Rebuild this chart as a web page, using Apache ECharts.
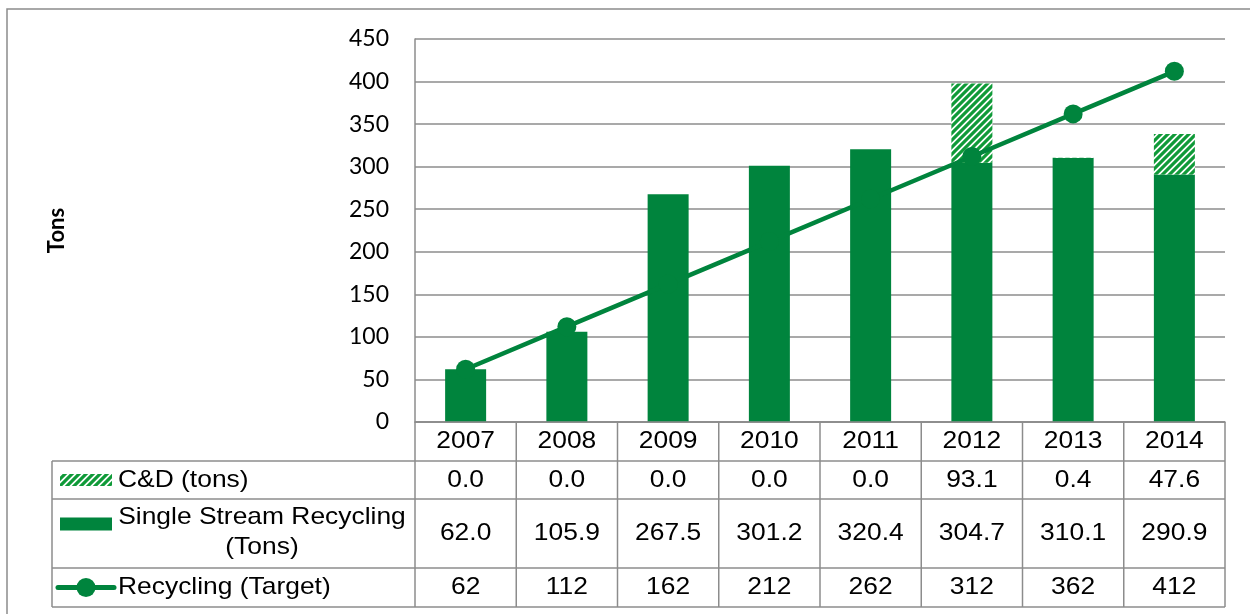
<!DOCTYPE html>
<html>
<head>
<meta charset="utf-8">
<style>
  html, body { margin: 0; padding: 0; background: #fff; }
  #chart { width: 1250px; height: 614px; }
</style>
<script src="https://cdn.jsdelivr.net/npm/echarts@6/dist/echarts.min.js"></script>
</head>
<body>
<div id="chart"></div>
<script>
// Recycling tonnage by year
const years = ['2007', '2008', '2009', '2010', '2011', '2012', '2013', '2014'];
const cdTons = [0.0, 0.0, 0.0, 0.0, 0.0, 93.1, 0.4, 47.6];
const singleStreamTons = [62.0, 105.9, 267.5, 301.2, 320.4, 304.7, 310.1, 290.9];
const recyclingTarget = [62, 112, 162, 212, 262, 312, 362, 412];
const seriesNames = ['C&D (tons)', 'Single Stream Recycling\n(Tons)', 'Recycling (Target)'];
const yTickMin = 0, yTickMax = 450, yTickStep = 50;

const GREEN = '#00843d';
const HATCH_GREEN = '#0f9a38';
const GRAY = '#8c8c8c';
const TABLE_FONT = '"Liberation Sans", Arial, sans-serif';

// upward diagonal hatch fill
function hatchCanvas() {
  const c = document.createElement('canvas');
  c.width = 7; c.height = 7;
  const g = c.getContext('2d');
  g.fillStyle = '#fff';
  g.fillRect(0, 0, 7, 7);
  g.strokeStyle = HATCH_GREEN;
  g.lineWidth = 3.2;
  g.beginPath();
  g.moveTo(-1, 8); g.lineTo(8, -1);
  g.moveTo(-4, 4); g.lineTo(4, -4);
  g.moveTo(3, 11); g.lineTo(11, 3);
  g.stroke();
  return c;
}
const hatch = { image: hatchCanvas(), repeat: 'repeat' };

const chart = echarts.init(document.getElementById('chart'), null, { renderer: 'canvas' });

const option = {
  animation: false,
  backgroundColor: '#fff',
  grid: { left: 415, right: 25, top: 39, bottom: 192, containLabel: false },
  xAxis: {
    type: 'category',
    data: years,
    axisLine: { show: true, lineStyle: { color: GRAY, width: 1.5 } },
    axisTick: { show: false },
    axisLabel: { show: false },
    splitLine: { show: false }
  },
  yAxis: {
    type: 'value',
    min: yTickMin, max: yTickMax, interval: yTickStep,
    name: 'Tons',
    nameLocation: 'middle',
    nameRotate: 90,
    nameGap: 347,
    nameTextStyle: { fontFamily: 'Lato, "Open Sans", sans-serif', fontWeight: 'bold', fontSize: 22, color: '#000' },
    axisLine: { show: true, lineStyle: { color: GRAY, width: 1.5 } },
    axisTick: { show: false },
    axisLabel: { margin: 26, fontFamily: 'Lato, "Open Sans", sans-serif', fontSize: 23, color: '#000' },
    splitLine: { show: true, lineStyle: { color: GRAY, width: 1.5 } }
  },
  series: [
    {
      name: 'Single Stream Recycling (Tons)',
      type: 'bar',
      stack: 'tons',
      barWidth: 41,
      data: singleStreamTons,
      itemStyle: { color: GREEN },
      z: 2
    },
    {
      name: 'C&D (tons)',
      type: 'bar',
      stack: 'tons',
      barWidth: 41,
      data: cdTons,
      itemStyle: { color: hatch },
      z: 2
    },
    {
      name: 'Recycling (Target)',
      type: 'line',
      data: recyclingTarget,
      symbol: 'circle',
      symbolSize: 19,
      lineStyle: { color: GREEN, width: 4.5 },
      itemStyle: { color: GREEN },
      z: 5
    }
  ]
};

chart.setOption(option);

// Data table under the plot, aligned with the category bands
function buildTable() {
  const c0 = chart.convertToPixel({ xAxisIndex: 0 }, 0);
  const c1 = chart.convertToPixel({ xAxisIndex: 0 }, 1);
  const colW = c1 - c0;
  const left = c0 - colW / 2;
  const right = left + colW * years.length;
  const top = chart.convertToPixel({ yAxisIndex: 0 }, 0);
  const rowH = [39, 38, 69, 39];
  const rowY = [top];
  rowH.forEach(h => rowY.push(rowY[rowY.length - 1] + h));
  const legendLeft = 52;
  const g = [];
  const line = (x1, y1, x2, y2) => g.push({
    type: 'line', silent: true, z: 10,
    shape: { x1, y1, x2, y2 },
    style: { stroke: GRAY, lineWidth: 1.5 }
  });
  // table text is drawn slightly wide, like the stretched spreadsheet font
  const txt = (text, x, y, align) => g.push({
    type: 'text', silent: true, z: 11,
    x, y, scaleX: 1.1, scaleY: 1,
    style: {
      text, x: 0, y: 0, align: align || 'center', verticalAlign: 'middle',
      font: '24px ' + TABLE_FONT, fill: '#000', lineHeight: 30
    }
  });

  // outer frame of the chart area
  g.push({ type: 'rect', silent: true, z: 0, shape: { x: 7, y: 9, width: 1400, height: 800 },
           style: { fill: 'none', stroke: GRAY, lineWidth: 1.5 } });

  // horizontal rules
  line(left, rowY[0], right, rowY[0]);
  for (let r = 1; r <= 4; r++) line(legendLeft, rowY[r], right, rowY[r]);
  // vertical rules
  for (let i = 0; i <= years.length; i++) {
    const x = left + colW * i;
    line(x, rowY[0], x, rowY[4]);
  }
  line(legendLeft, rowY[1], legendLeft, rowY[4]);

  const mid = r => (rowY[r] + rowY[r + 1]) / 2;
  years.forEach((y, i) => {
    const cx = left + colW * (i + 0.5);
    txt(y, cx, mid(0));
    txt(cdTons[i].toFixed(1), cx, mid(1));
    txt(singleStreamTons[i].toFixed(1), cx, mid(2));
    txt(String(recyclingTarget[i]), cx, mid(3));
  });

  // legend keys
  g.push({ type: 'rect', silent: true, z: 11, shape: { x: 60, y: mid(1) - 6, width: 52, height: 12 },
           style: { fill: hatch } });
  g.push({ type: 'rect', silent: true, z: 11, shape: { x: 60, y: mid(2) - 16, width: 52, height: 13 },
           style: { fill: GREEN } });
  g.push({ type: 'line', silent: true, z: 11, shape: { x1: 58, y1: mid(3), x2: 114, y2: mid(3) },
           style: { stroke: GREEN, lineWidth: 5, lineCap: 'round' } });
  g.push({ type: 'circle', silent: true, z: 12, shape: { cx: 86, cy: mid(3), r: 9.5 },
           style: { fill: GREEN } });

  // legend names
  txt(seriesNames[0], 118, mid(1), 'left');
  txt(seriesNames[1], 262, mid(2) - 1, 'center');
  txt(seriesNames[2], 118, mid(3), 'left');

  chart.setOption({ graphic: g });
}
buildTable();
</script>
</body>
</html>
